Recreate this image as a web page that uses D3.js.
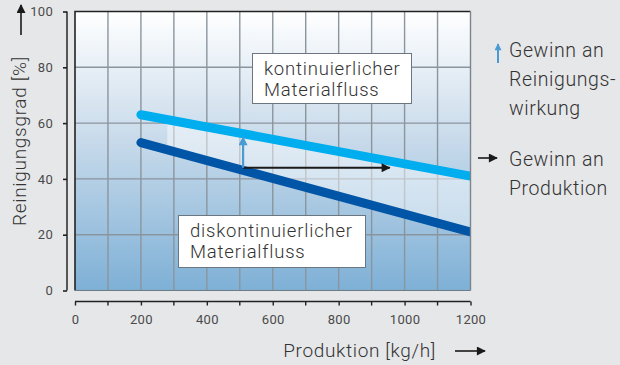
<!DOCTYPE html>
<html>
<head>
<meta charset="utf-8">
<script src="https://cdn.jsdelivr.net/npm/d3@7"></script>
<style>
  html, body { margin: 0; padding: 0; background: #e6e7e9; }
  svg { display: block; font-family: Roboto, "Open Sans", sans-serif; }
</style>
</head>
<body>
<svg id="chart" width="620" height="365"></svg>
<script>
// Throughput (kg/h) against cleaning degree (%)
const production = [200, 1200];
const continuousFlow = [63, 41];     // kontinuierlicher Materialfluss
const discontinuousFlow = [53, 21];  // diskontinuierlicher Materialfluss
const xTicks = [0, 200, 400, 600, 800, 1000, 1200];
const xMinorTicks = [100, 300, 500, 700, 900, 1100];
const yTicks = [0, 20, 40, 60, 80, 100];
const gainRegionFrom = [280];        // start of the highlighted gain band
const gainArrowX = [510];
const gainArrowY = [44, 55];         // vertical gain: from / to
const gainProductionX = [510, 955];  // horizontal gain: from / to

const svg = d3.select("#chart");
const x = d3.scaleLinear().domain([0, 1200]).range([75, 470.5]);
const y = d3.scaleLinear().domain([0, 100]).range([290.5, 11.5]);

const defs = svg.append("defs");
const grad = defs.append("linearGradient").attr("id", "plotBg")
  .attr("x1", 0).attr("y1", 0).attr("x2", 0).attr("y2", 1);
grad.append("stop").attr("offset", "0%").attr("stop-color", "#ffffff");
grad.append("stop").attr("offset", "45%").attr("stop-color", "#c9dbeb");
grad.append("stop").attr("offset", "100%").attr("stop-color", "#7eb0d6");
defs.append("clipPath").attr("id", "plotClip").append("rect")
  .attr("x", x(0)).attr("y", y(100)).attr("width", x(1200) - x(0)).attr("height", y(0) - y(100));

function marker(id, color, w, h) {
  defs.append("marker").attr("id", id)
    .attr("viewBox", "0 0 10 10").attr("refX", 9).attr("refY", 5)
    .attr("markerWidth", w).attr("markerHeight", h)
    .attr("markerUnits", "userSpaceOnUse")
    .attr("orient", "auto")
    .append("path").attr("d", "M0,0 L10,5 L0,10 Z").attr("fill", color);
}
marker("headBlack", "#1a1a1a", 11, 9);
marker("headBlue", "#4a9bd4", 16, 9);
marker("headBlueSmall", "#4a9bd4", 10, 7);

// plot background
svg.append("rect")
  .attr("x", x(0)).attr("y", y(100))
  .attr("width", x(1200) - x(0)).attr("height", y(0) - y(100))
  .attr("fill", "url(#plotBg)");

// grid
const plot = svg.append("g").attr("clip-path", "url(#plotClip)");
plot.append("g").selectAll("line").data(d3.range(100, 1200, 100)).join("line")
  .attr("x1", d => x(d)).attr("x2", d => x(d))
  .attr("y1", y(100)).attr("y2", y(0))
  .attr("stroke", "#8b959d").attr("stroke-width", 1.4);
plot.append("g").selectAll("line").data(yTicks.slice(1, -1)).join("line")
  .attr("x1", x(0)).attr("x2", x(1200))
  .attr("y1", d => y(d)).attr("y2", d => y(d))
  .attr("stroke", "#8b959d").attr("stroke-width", 1.4);

// highlighted band between the two flows
const lerp = (arr, v) => arr[0] + (arr[1] - arr[0]) * (v - production[0]) / (production[1] - production[0]);
const x0 = gainRegionFrom[0];
const band = [
  [x0, lerp(continuousFlow, x0)], [1200, continuousFlow[1]],
  [1200, discontinuousFlow[1]], [x0, lerp(discontinuousFlow, x0)]
];
plot.append("path")
  .attr("d", d3.line().x(d => x(d[0])).y(d => y(d[1]))(band) + "Z")
  .attr("fill", "#ffffff").attr("fill-opacity", 0.45);

// flow lines
const line = d3.line().x(d => x(d[0])).y(d => y(d[1]));
plot.append("path")
  .attr("d", line(production.map((p, i) => [p, continuousFlow[i]])))
  .attr("stroke", "#00aeef").attr("stroke-width", 9).attr("stroke-linecap", "round").attr("fill", "none");
plot.append("path")
  .attr("d", line(production.map((p, i) => [p, discontinuousFlow[i]])))
  .attr("stroke", "#0055a6").attr("stroke-width", 9).attr("stroke-linecap", "round").attr("fill", "none");

// gain arrows
plot.append("line")
  .attr("x1", x(gainProductionX[0])).attr("x2", x(gainProductionX[1]))
  .attr("y1", y(gainArrowY[0])).attr("y2", y(gainArrowY[0]))
  .attr("stroke", "#1a1a1a").attr("stroke-width", 2)
  .attr("marker-end", "url(#headBlack)");
plot.append("line")
  .attr("x1", x(gainArrowX[0])).attr("x2", x(gainArrowX[0]))
  .attr("y1", y(gainArrowY[0])).attr("y2", y(gainArrowY[1]))
  .attr("stroke", "#4a9bd4").attr("stroke-width", 2.2)
  .attr("marker-end", "url(#headBlue)");

// plot frame
svg.append("path")
  .attr("d", `M${x(0)},${y(0)} V${y(100)} H${x(1200)}`)
  .attr("fill", "none").attr("stroke", "#222").attr("stroke-width", 1.6);
svg.append("line")
  .attr("x1", x(1200)).attr("x2", x(1200)).attr("y1", y(100)).attr("y2", y(0))
  .attr("stroke", "#7d858c").attr("stroke-width", 1.4);
svg.append("line")
  .attr("x1", x(0)).attr("x2", x(1200)).attr("y1", y(0)).attr("y2", y(0))
  .attr("stroke", "#6f7a84").attr("stroke-width", 1);

// y axis (offset to the left)
const yAxis = svg.append("g").attr("transform", "translate(67,0)")
  .call(d3.axisLeft(y).tickValues(yTicks).tickSize(4).tickPadding(10).tickFormat(d3.format("d")));
yAxis.select(".domain").attr("stroke", "#333").attr("stroke-width", 1.6)
  .attr("d", `M0,${y(100)}V${y(0)}`);
yAxis.selectAll(".tick line").attr("stroke", "#222").attr("stroke-width", 1.6);
yAxis.selectAll(".tick text").attr("fill", "#4a4a4a").attr("font-size", 13)
  .attr("font-family", "Roboto").attr("letter-spacing", 0.3);

// x axis (offset below)
const xAxisG = svg.append("g").attr("transform", "translate(0,301.5)");
xAxisG.call(d3.axisBottom(x).tickValues(xTicks).tickSize(4).tickPadding(9).tickFormat(d3.format("d")));
xAxisG.select(".domain").attr("stroke", "#222").attr("stroke-width", 1.6)
  .attr("d", `M${x(0)},0H${x(1200)}`);
xAxisG.selectAll(".tick line").attr("stroke", "#222").attr("stroke-width", 1.4);
xAxisG.selectAll(".tick text").attr("fill", "#4a4a4a").attr("font-size", 13)
  .attr("font-family", "Roboto").attr("letter-spacing", 0.3);
xAxisG.append("g").selectAll("line").data(xMinorTicks).join("line")
  .attr("x1", d => x(d)).attr("x2", d => x(d)).attr("y1", 0).attr("y2", 4)
  .attr("stroke", "#222").attr("stroke-width", 1.4);

// shared text style
function styleText(sel, size, spacing) {
  return sel.attr("font-family", "Roboto").attr("font-weight", 300)
    .attr("font-size", size).attr("letter-spacing", spacing).attr("fill", "#333");
}

// axis titles
styleText(svg.append("text")
  .attr("transform", "translate(26,141) rotate(-90)")
  .attr("text-anchor", "middle"), 19, 0.7)
  .text("Reinigungsgrad [%]");
svg.append("line").attr("x1", 21).attr("x2", 21).attr("y1", 35).attr("y2", 5)
  .attr("stroke", "#1a1a1a").attr("stroke-width", 1.6).attr("marker-end", "url(#headBlack)");

styleText(svg.append("text")
  .attr("x", 436).attr("y", 357).attr("text-anchor", "end"), 19, 0.65)
  .text("Produktion [kg/h]");
svg.append("line").attr("x1", 455).attr("x2", 485).attr("y1", 351).attr("y2", 351)
  .attr("stroke", "#1a1a1a").attr("stroke-width", 1.6).attr("marker-end", "url(#headBlack)");

// series labels
function labelBox(bx, by, bw, bh, lines) {
  svg.append("rect").attr("x", bx).attr("y", by).attr("width", bw).attr("height", bh)
    .attr("fill", "#fff").attr("stroke", "#6c7680").attr("stroke-width", 1);
  lines.forEach((t, i) => {
    styleText(svg.append("text").attr("x", bx + 11.5).attr("y", by + 21.5 + i * 20.5), 18.5, 0.8)
      .text(t);
  });
}
labelBox(252.5, 53.5, 159, 50, ["kontinuierlicher", "Materialfluss"]);
labelBox(178.5, 215.5, 187, 52, ["diskontinuierlicher", "Materialfluss"]);

// legend
const legend = [
  { y: 56.5, lines: ["Gewinn an", "Reinigungs-", "wirkung"] },
  { y: 165.5, lines: ["Gewinn an", "Produktion"] }
];
legend.forEach(item => {
  item.lines.forEach((t, i) => {
    styleText(svg.append("text").attr("x", 509).attr("y", item.y + i * 29.3), 19.5, 0.6)
      .text(t);
  });
});
svg.append("line").attr("x1", 498).attr("x2", 498).attr("y1", 63).attr("y2", 44)
  .attr("stroke", "#4a9bd4").attr("stroke-width", 2).attr("marker-end", "url(#headBlueSmall)");
svg.append("line").attr("x1", 478).attr("x2", 497).attr("y1", 158).attr("y2", 158)
  .attr("stroke", "#1a1a1a").attr("stroke-width", 1.6).attr("marker-end", "url(#headBlack)");
</script>
</body>
</html>
